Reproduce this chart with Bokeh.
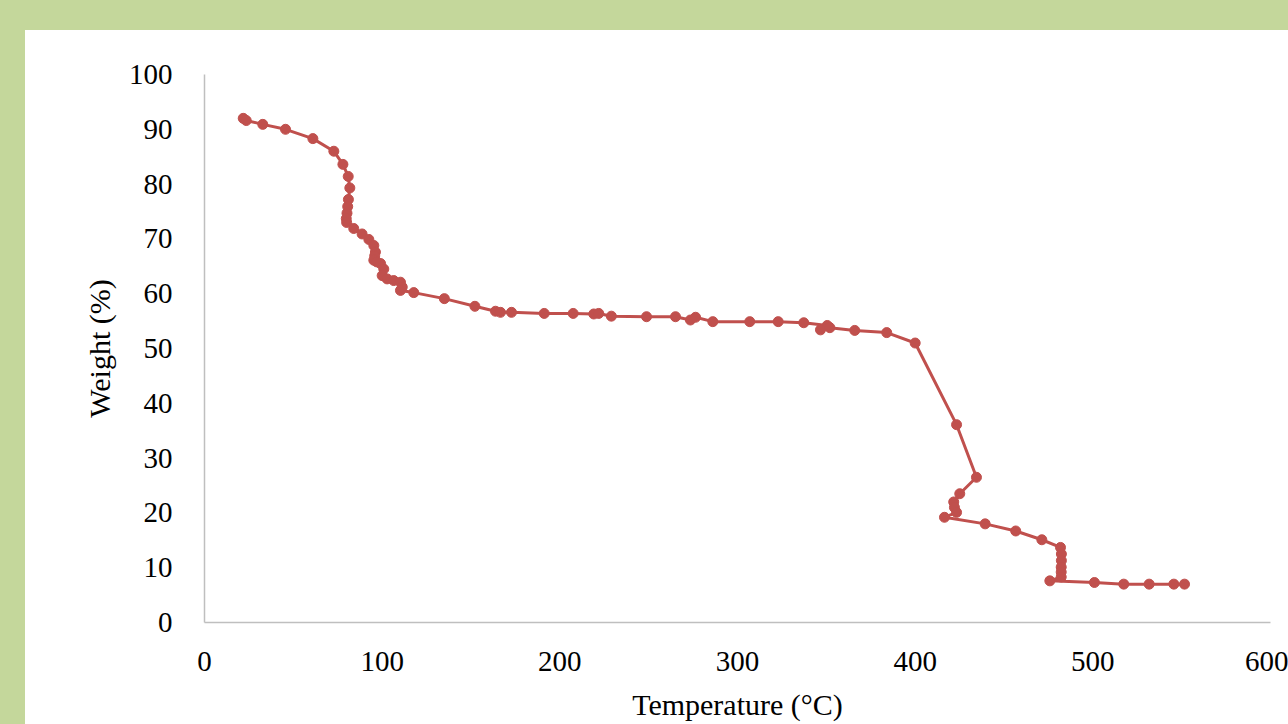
from bokeh.plotting import figure
from bokeh.layouts import column, row
from bokeh.models import Spacer, Range1d, SingleIntervalTicker
from bokeh.embed import file_html
from bokeh.resources import INLINE

# Data (Temperature in °C, Weight in %)
temperature = [21.8, 23.5, 32.8, 45.6, 61.0, 72.8, 77.9, 80.9, 81.8, 81.0,
               80.6, 80.2, 79.8, 80.0, 84.0, 88.7, 92.5, 95.3, 96.2, 95.8,
               95.3, 97.0, 99.1, 100.9, 100.0, 102.8, 106.5, 110.3, 111.3, 110.3,
               117.8, 135.0, 152.2, 163.8, 166.6, 172.8, 191.2, 207.5, 219.1, 221.9,
               229.0, 248.8, 265.1, 273.5, 276.4, 286.1, 306.9, 322.9, 337.3, 350.5,
               346.7, 352.0, 366.0, 384.0, 400.0, 423.3, 434.5, 425.1, 421.7, 422.1,
               423.3, 416.5, 439.4, 456.6, 471.3, 481.8, 482.3, 482.3, 482.2, 482.2,
               482.2, 475.8, 500.9, 517.4, 531.7, 545.6, 551.6]
weight = [92.0, 91.6, 90.9, 90.0, 88.3, 86.0, 83.6, 81.4, 79.3, 77.2,
          75.9, 74.7, 73.7, 73.0, 71.9, 70.9, 69.9, 68.8, 67.6, 66.9,
          66.1, 65.8, 65.5, 64.5, 63.3, 62.7, 62.4, 62.1, 61.2, 60.6,
          60.2, 59.1, 57.7, 56.8, 56.6, 56.6, 56.4, 56.4, 56.3, 56.4,
          55.9, 55.8, 55.8, 55.2, 55.7, 54.9, 54.9, 54.9, 54.7, 54.2,
          53.4, 53.8, 53.3, 52.9, 51.0, 36.1, 26.5, 23.5, 22.0, 21.0,
          20.1, 19.2, 18.0, 16.7, 15.1, 13.7, 12.5, 11.3, 10.1, 9.2,
          8.3, 7.6, 7.3, 7.0, 7.0, 7.0, 7.0]

x_label = "Temperature (°C)"
y_label = "Weight (%)"

GREEN = "#c4d79b"
RED = "#c0504d"
AXIS_GREY = "#bfbfbf"
FONT = "Liberation Serif"

p = figure(width=1263, height=694,
           x_range=Range1d(0, 600), y_range=Range1d(0, 100),
           output_backend="svg", toolbar_location=None,
           min_border_left=179, min_border_right=18,
           min_border_top=44, min_border_bottom=102)
p.background_fill_color = "white"
p.border_fill_color = "white"
p.outline_line_color = None
p.grid.visible = False

p.xaxis.ticker = SingleIntervalTicker(interval=100)
p.yaxis.ticker = SingleIntervalTicker(interval=10)

for ax in (p.xaxis[0], p.yaxis[0]):
    ax.axis_line_color = AXIS_GREY
    ax.axis_line_width = 1.5
    ax.major_tick_line_color = None
    ax.minor_tick_line_color = None
    ax.major_tick_out = 0
    ax.major_tick_in = 0
    ax.major_label_text_font = FONT
    ax.major_label_text_font_size = "29px"
    ax.major_label_text_color = "black"
    ax.axis_label_text_font = FONT
    ax.axis_label_text_font_size = "30px"
    ax.axis_label_text_font_style = "normal"
    ax.axis_label_text_color = "black"

p.xaxis.axis_label = x_label
p.yaxis.axis_label = y_label
p.xaxis.major_label_standoff = 25
p.yaxis.major_label_standoff = 28
p.xaxis.axis_label_standoff = 14
p.yaxis.axis_label_standoff = 10

p.line(temperature, weight, line_color=RED, line_width=3)
p.scatter(temperature, weight, size=10, fill_color=RED, line_color=RED)

top = Spacer(width=1288, height=30, styles={"background-color": GREEN})
left = Spacer(width=25, height=694, styles={"background-color": GREEN})
root = column(top, row(left, p, spacing=0), spacing=0)

open("out.html", "w").write(file_html(root, INLINE))
